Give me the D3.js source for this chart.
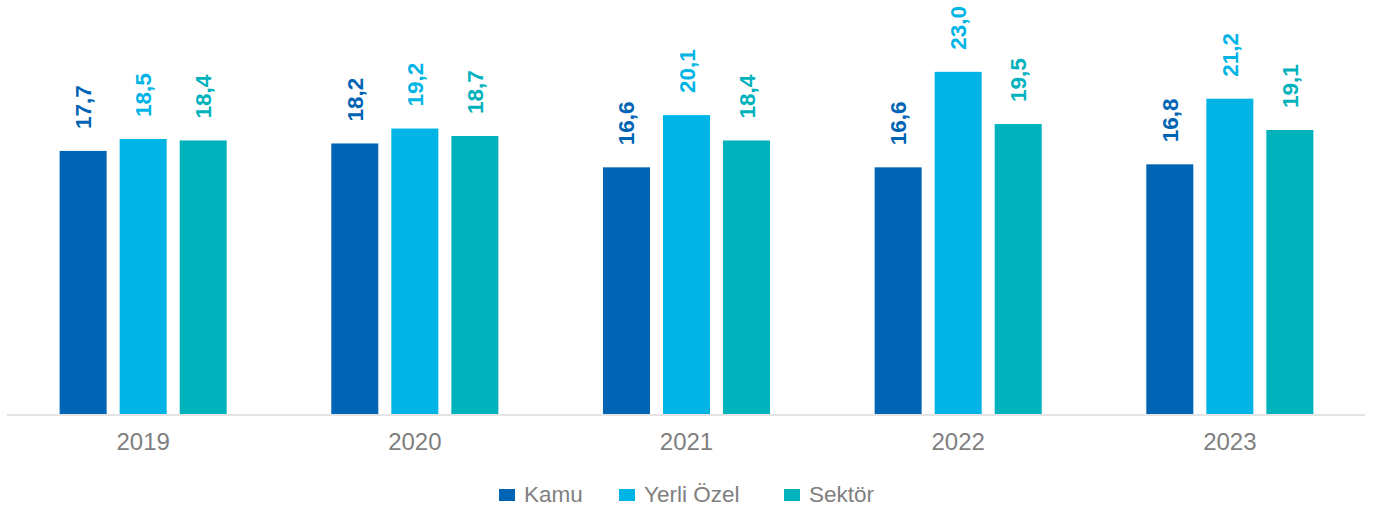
<!DOCTYPE html>
<html>
<head>
<meta charset="utf-8">
<script src="https://cdn.jsdelivr.net/npm/d3@7"></script>
<style>
  body { margin: 0; background: #fff; }
  svg { display: block; font-family: "Liberation Sans", Arial, sans-serif; }
</style>
</head>
<body>
<div id="chart"></div>
<script>
// chart values
const years = ["2019", "2020", "2021", "2022", "2023"];
const seriesNames = ["Kamu", "Yerli Özel", "Sektör"];
const kamu = [17.7, 18.2, 16.6, 16.6, 16.8];
const yerliOzel = [18.5, 19.2, 20.1, 23.0, 21.2];
const sektor = [18.4, 18.7, 18.4, 19.5, 19.1];

const colors = ["#0064b4", "#00b4e6", "#00b2bb"];
const seriesValues = [kamu, yerliOzel, sektor];

const width = 1384, height = 511;
const baseY = 415;

const svg = d3.select("#chart").append("svg")
    .attr("width", width)
    .attr("height", height);

// scales
const x0 = d3.scaleBand()
    .domain(years)
    .range([8, 1365])
    .paddingInner(0.385)
    .paddingOuter(0.19);

const x1 = d3.scaleBand()
    .domain(seriesNames)
    .range([0, x0.bandwidth()])
    .paddingInner(0.217);

const y = d3.scaleLinear()
    .domain([0, 25])
    .range([baseY, baseY - 25 * 14.92]);

// bars
const rows = years.map((yr, i) => ({
    year: yr,
    vals: seriesNames.map((s, j) => ({ name: s, value: seriesValues[j][i], color: colors[j] }))
}));

const groups = svg.selectAll(".grp")
    .data(rows)
    .enter().append("g")
    .attr("class", "grp")
    .attr("transform", d => `translate(${x0(d.year)},0)`);

groups.selectAll("rect")
    .data(d => d.vals)
    .enter().append("rect")
    .attr("x", d => x1(d.name))
    .attr("y", d => y(d.value))
    .attr("width", x1.bandwidth())
    .attr("height", d => y(0) - y(d.value))
    .attr("fill", d => d.color);

// value labels, rotated
groups.selectAll(".val")
    .data(d => d.vals)
    .enter().append("text")
    .attr("class", "val")
    .attr("transform", d => `translate(${x1(d.name) + x1.bandwidth() / 2 + 8},${y(d.value) - 22}) rotate(-90)`)
    .attr("text-anchor", "start")
    .attr("font-size", "22.5px")
    .attr("font-weight", "bold")
    .attr("fill", d => d.color)
    .text(d => d.value.toFixed(1).replace(".", ","));

// x axis
const xAxis = svg.append("g")
    .attr("transform", `translate(0,${baseY})`)
    .call(d3.axisBottom(x0).tickSize(0).tickPadding(18));
xAxis.select(".domain").attr("stroke", "#e4e4e4").attr("stroke-width", 2)
    .attr("d", "M7,0H1365");
xAxis.selectAll("text")
    .attr("font-family", "Liberation Sans, Arial, sans-serif")
    .attr("font-size", "24px")
    .attr("fill", "#7f7f7f");

// legend
const legendX = [499, 619, 784];
const legend = svg.selectAll(".leg")
    .data(seriesNames)
    .enter().append("g")
    .attr("class", "leg")
    .attr("transform", (d, i) => `translate(${legendX[i]},489)`);
legend.append("rect")
    .attr("width", 16)
    .attr("height", 12)
    .attr("fill", (d, i) => colors[i]);
legend.append("text")
    .attr("x", 25)
    .attr("y", 13)
    .attr("font-size", "22.5px")
    .attr("fill", "#7f7f7f")
    .text(d => d);
</script>
</body>
</html>
